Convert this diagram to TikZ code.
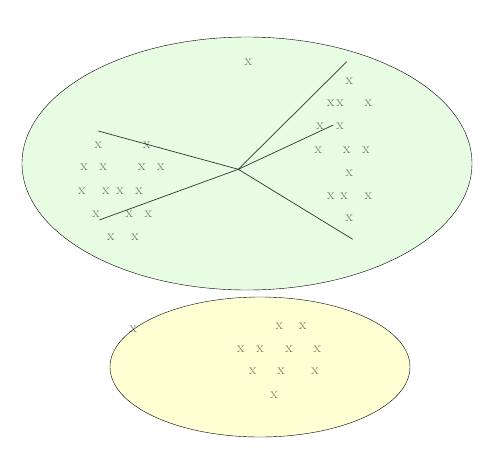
\documentclass[tikz,border=0pt]{standalone}
\usetikzlibrary{calc}

\definecolor{clustergreen}{RGB}{232,252,228}
\definecolor{clusteryellow}{RGB}{255,255,212}

\begin{document}
\begin{tikzpicture}[x = 1pt, y = -1pt,
    xmark/.style = {inner sep = 0pt, text = black, text opacity = 0.55, font = \fontsize{15}{15}\selectfont}]

    \useasboundingbox (0, 0) rectangle (498, 464);

    % two clusters
    \draw[fill = clustergreen] (247, 163.5) ellipse (225pt and 126.5pt);
    \draw[fill = clusteryellow] (260, 367) ellipse (150pt and 70pt);

    % separating lines through one point
    \coordinate (hub) at (238.3, 169.3);
    \coordinate (armA) at (98.3, 131);
    \coordinate (armB) at (346.7, 61.7);
    \coordinate (armC) at (333.3, 125);
    \coordinate (armD) at (352.7, 239.3);
    \coordinate (armE) at (99.3, 220);
    \draw[line width = 0.25mm, black!80] (armA) -- (hub) -- (armB);
    \draw[line width = 0.25mm, black!80] (armC) -- (hub) -- (armD);
    \draw[line width = 0.25mm, black!80] (hub) -- (armE);

    % points of the top cluster
    \node[xmark] (top) at (248.3, 62.5) {x};
    \foreach \px/\py [count = \i] in {349.3/81.7, 330.7/104, 340/104, 368.3/104,
        320/127.3, 340/127.3, 318.3/151, 346.7/151, 366/151, 349.3/174.3,
        330.7/196.7, 344/196.7, 368.3/196.7, 349.3/219.3}
        \node[xmark] (right\i) at (\px, \py - 0.8) {x};
    \foreach \px/\py [count = \i] in {98.3/146, 146.7/146, 84/168.3, 103.3/168.3,
        141.7/168.3, 160.7/168.3, 81.7/191.7, 105.7/191.7, 120/191.7, 139/191.7,
        96/215, 129.3/215, 148.3/215, 110.7/238.3, 135/238.3}
        \node[xmark] (left\i) at (\px, \py - 0.8) {x};

    % points of the bottom cluster
    \node[xmark] (stray) at (133.3, 329.5) {x};
    \foreach \px/\py [count = \i] in {279.3/326.7, 302.7/326.7, 240.7/350, 260/350,
        289/350, 317.3/350, 252.7/371.7, 281/371.7, 315/371.7, 274/396}
        \node[xmark] (low\i) at (\px, \py - 0.8) {x};

\end{tikzpicture}
\end{document}
